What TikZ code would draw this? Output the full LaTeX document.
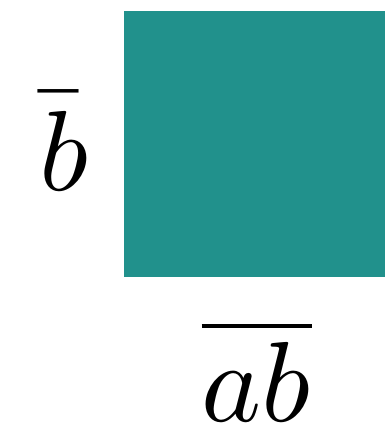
\documentclass[tikz,border=0pt]{standalone}
\usepackage{fontspec}
\usepackage{unicode-math}
\definecolor{tealfill}{HTML}{21918C}
\tikzset{lbl/.style={inner sep=0pt, anchor=base, font=\fontsize{114}{120}\selectfont}}
\begin{document}
\begin{tikzpicture}[x=1pt,y=1pt]
\useasboundingbox (0,0) rectangle (385,-424);
\fill[tealfill] (124,-11) rectangle (385,-277);
\node[lbl] (bl) at (65,-190) {$\bar b$};
\node[lbl] (abl) at (257,-421) {$\overline{ab}$};
\end{tikzpicture}
\end{document}
